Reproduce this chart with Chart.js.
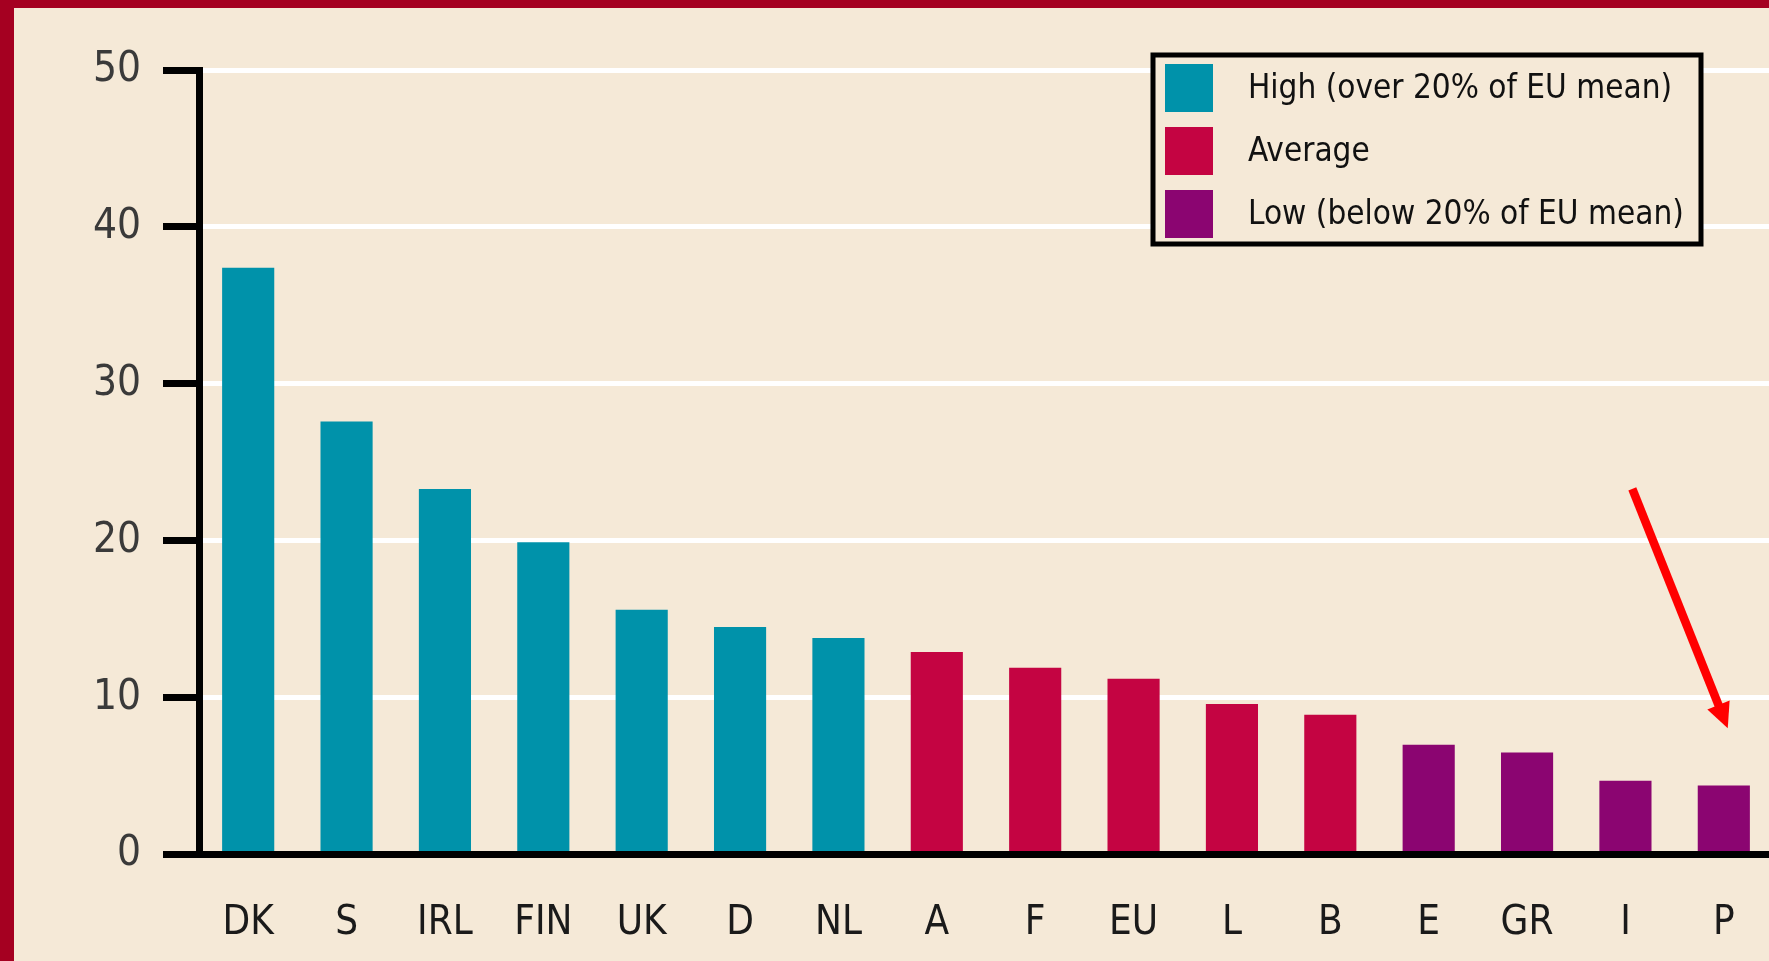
<!DOCTYPE html>
<html>
<head>
<meta charset="utf-8">
<script src="https://cdn.jsdelivr.net/npm/chart.js@4.4.1/dist/chart.umd.min.js"></script>
<style>
  html, body { margin: 0; padding: 0; background: #f5e9d7; overflow: hidden; }
  #frame {
    position: relative;
    width: 1769px;
    height: 961px;
    box-sizing: border-box;
    border-top: 8px solid #a50021;
    border-left: 14px solid #a50021;
    background: #f5e9d7;
    overflow: hidden;
  }
  #chart { position: absolute; left: -14px; top: -8px; width: 1773px; height: 961px; }
</style>
</head>
<body>
<div id="frame">
  <canvas id="chart" width="1773" height="961"></canvas>
</div>
<script>
// Data
const categories = ['DK', 'S', 'IRL', 'FIN', 'UK', 'D', 'NL', 'A', 'F', 'EU', 'L', 'B', 'E', 'GR', 'I', 'P'];
const values = [37.4, 27.6, 23.3, 19.9, 15.6, 14.5, 13.8, 12.9, 11.9, 11.2, 9.6, 8.9, 7.0, 6.5, 4.7, 4.4];
const groups = ['high', 'high', 'high', 'high', 'high', 'high', 'high',
                'avg', 'avg', 'avg', 'avg', 'avg',
                'low', 'low', 'low', 'low'];
const groupKeys = ['high', 'avg', 'low'];
const groupLabels = ['High (over 20% of EU mean)', 'Average', 'Low (below 20% of EU mean)'];
const groupColors = ['#0092aa', '#c40442', '#8b0571'];
const yTicks = [0, 10, 20, 30, 40, 50];

// arrow annotation, in category index / value units
const arrowFrom = { index: 14.07, value: 23.3 };
const arrowTo = { index: 15.04, value: 8.05 };

const FONT = "'DejaVu Sans Condensed', 'DejaVu Sans', sans-serif";

const datasets = groupKeys.map((key, g) => ({
    label: groupLabels[g],
    data: values.map((v, i) => groups[i] === key ? v : null),
    backgroundColor: groupColors[g],
    borderWidth: 0,
    grouped: false,
    categoryPercentage: 1,
    barPercentage: 0.53
}));

// legend box drawn inside the plot, top right
const boxLegend = {
    id: 'boxLegend',
    afterDraw(chart) {
        const ctx = chart.ctx;
        const x = 1153, y = 55, w = 548, h = 189;
        ctx.save();
        ctx.fillStyle = '#f5e9d7';
        ctx.fillRect(x, y, w, h);
        ctx.lineWidth = 5;
        ctx.strokeStyle = '#000';
        ctx.strokeRect(x, y, w, h);
        ctx.font = '33px ' + FONT;
        ctx.textBaseline = 'alphabetic';
        chart.data.datasets.forEach((ds, i) => {
            const sy = 64 + i * 63;
            ctx.fillStyle = ds.backgroundColor;
            ctx.fillRect(1165, sy, 48, 48);
            ctx.fillStyle = '#111';
            ctx.fillText(ds.label, 1248, sy + 34);
        });
        ctx.restore();
    }
};

const arrowPlugin = {
    id: 'arrow',
    afterDatasetsDraw(chart) {
        const { ctx, scales: { x, y } } = chart;
        const x1 = x.getPixelForValue(arrowFrom.index), y1 = y.getPixelForValue(arrowFrom.value);
        const x2 = x.getPixelForValue(arrowTo.index), y2 = y.getPixelForValue(arrowTo.value);
        const ang = Math.atan2(y2 - y1, x2 - x1);
        const headLen = 25, headW = 12;
        ctx.save();
        ctx.strokeStyle = '#ff0000';
        ctx.fillStyle = '#ff0000';
        ctx.lineWidth = 8.5;
        ctx.beginPath();
        ctx.moveTo(x1, y1);
        ctx.lineTo(x2 - Math.cos(ang) * headLen * 0.8, y2 - Math.sin(ang) * headLen * 0.8);
        ctx.stroke();
        ctx.beginPath();
        ctx.moveTo(x2, y2);
        ctx.lineTo(x2 - Math.cos(ang) * headLen - Math.sin(ang) * headW, y2 - Math.sin(ang) * headLen + Math.cos(ang) * headW);
        ctx.lineTo(x2 - Math.cos(ang) * headLen + Math.sin(ang) * headW, y2 - Math.sin(ang) * headLen - Math.cos(ang) * headW);
        ctx.closePath();
        ctx.fill();
        ctx.restore();
    }
};

new Chart(document.getElementById('chart'), {
    type: 'bar',
    data: { labels: categories, datasets: datasets },
    plugins: [arrowPlugin, boxLegend],
    options: {
        responsive: false,
        devicePixelRatio: 1,
        animation: false,
        events: [],
        layout: { padding: { top: 70, right: 0, left: 0, bottom: 0 } },
        plugins: {
            legend: { display: false },
            tooltip: { enabled: false }
        },
        scales: {
            x: {
                grid: { display: false, drawTicks: false },
                border: { display: true, color: '#000', width: 7, z: 1 },
                ticks: {
                    color: '#1a1a1a',
                    // small padding so the plot is not narrowed; line height pushes labels down
                    font: { family: FONT, size: 40, lineHeight: 2.45 },
                    padding: 20,
                    maxRotation: 0,
                    autoSkip: false
                },
                afterFit(scale) { scale.height = 106.5; }
            },
            y: {
                min: 0,
                max: 50,
                afterBuildTicks(scale) { scale.ticks = yTicks.map(v => ({ value: v })); },
                grid: {
                    color: '#ffffff',
                    lineWidth: 5,
                    tickColor: '#000',
                    tickWidth: 7,
                    tickLength: 36
                },
                border: { display: true, color: '#000', width: 7, z: 1 },
                ticks: {
                    color: '#3a3a3a',
                    font: { family: FONT, size: 42 },
                    padding: 22
                },
                afterFit(scale) { scale.width = 199; }
            }
        }
    }
});
</script>
</body>
</html>
